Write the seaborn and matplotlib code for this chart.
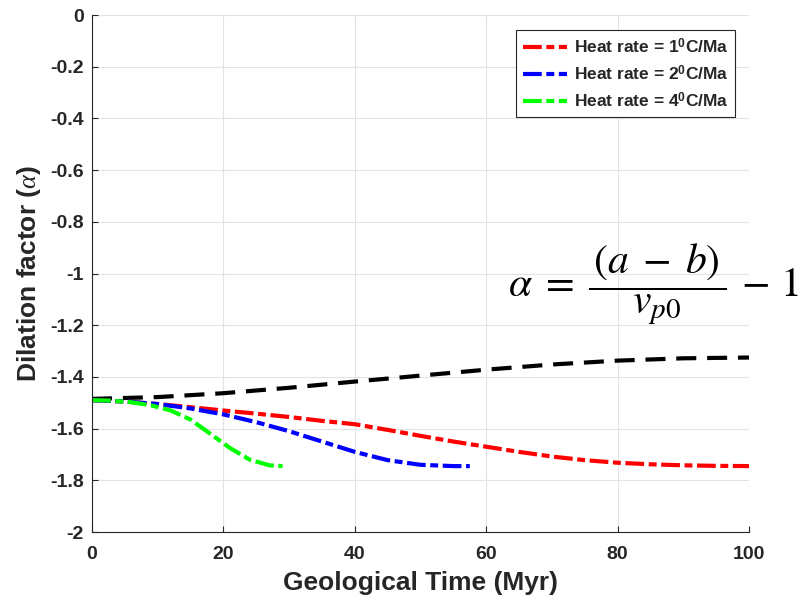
import matplotlib
matplotlib.use("Agg")
import matplotlib.pyplot as plt
import seaborn as sns
import pandas as pd

# ---- data ----
time_ref = [0, 10, 20, 30, 40, 50, 60, 70, 80, 90, 100]
alpha_ref = [-1.485, -1.478, -1.463, -1.442, -1.418, -1.395, -1.372, -1.352, -1.337, -1.328, -1.325]

time_1 = [0, 5, 10, 15, 20, 25, 30, 35, 40, 45, 50, 55, 60, 65, 70, 75, 80, 85, 90, 95, 100]
alpha_1 = [-1.49, -1.495, -1.505, -1.517, -1.53, -1.542, -1.555, -1.57, -1.583, -1.605, -1.628,
           -1.65, -1.67, -1.69, -1.708, -1.722, -1.732, -1.738, -1.742, -1.744, -1.745]

time_2 = [0, 5, 10, 15, 20, 25, 30, 35, 40, 45, 50, 55, 57.5]
alpha_2 = [-1.49, -1.495, -1.505, -1.522, -1.545, -1.575, -1.61, -1.65, -1.69, -1.722, -1.74, -1.745, -1.745]

time_4 = [0, 3, 6, 9, 12, 15, 18, 21, 24, 27, 29]
alpha_4 = [-1.49, -1.492, -1.498, -1.51, -1.53, -1.565, -1.62, -1.675, -1.72, -1.742, -1.745]

labels = ["Heat rate = 1$^{\\mathbf{0}}$C/Ma",
          "Heat rate = 2$^{\\mathbf{0}}$C/Ma",
          "Heat rate = 4$^{\\mathbf{0}}$C/Ma"]
colors = ["#ff0000", "#0000ff", "#00ff00"]

x_ticks = [0, 20, 40, 60, 80, 100]
y_ticks = [-2, -1.8, -1.6, -1.4, -1.2, -1, -0.8, -0.6, -0.4, -0.2, 0]
y_ticklabels = ["-2", "-1.8", "-1.6", "-1.4", "-1.2", "-1", "-0.8", "-0.6", "-0.4", "-0.2", "0"]

# ---- style ----
sns.set_style("whitegrid")
plt.rcParams["font.family"] = ["Liberation Sans", "DejaVu Sans"]
plt.rcParams["mathtext.fontset"] = "custom"
plt.rcParams["mathtext.rm"] = "Liberation Sans:bold"
plt.rcParams["mathtext.bf"] = "Liberation Sans:bold"
plt.rcParams["mathtext.it"] = "Liberation Serif:italic"

fig = plt.figure(figsize=(8.1, 6.0), dpi=100)
ax = fig.add_axes([0.1136, 0.1133, 0.8111, 0.8617])

dashdot = (0, (4.5, 1.1, 1.9, 1.1))
lw = 3.0

df_ref = pd.DataFrame({"t": time_ref, "a": alpha_ref})
sns.lineplot(data=df_ref, x="t", y="a", ax=ax, color="black", lw=lw,
             linestyle=(0, (4.8, 2.6)), legend=False)
for t, a, lab, c in [(time_1, alpha_1, labels[0], colors[0]),
                     (time_2, alpha_2, labels[1], colors[1]),
                     (time_4, alpha_4, labels[2], colors[2])]:
    d = pd.DataFrame({"t": t, "a": a})
    sns.lineplot(data=d, x="t", y="a", ax=ax, color=c, lw=lw,
                 linestyle=dashdot, label=lab)

ax.set_xlim(0, 100)
ax.set_ylim(-2, 0)
ax.set_xticks(x_ticks)
ax.set_yticks(y_ticks)
ax.set_yticklabels(y_ticklabels)
ax.tick_params(axis="both", labelsize=14, length=4, direction="in", colors="#262626",
               left=True, bottom=True)
ax.tick_params(axis="x", pad=10)
ax.tick_params(axis="y", pad=6)
for lab in ax.get_xticklabels() + ax.get_yticklabels():
    lab.set_fontweight("bold")
ax.grid(True, color="#e3e3e3", lw=0.8)
for side in ["top", "right"]:
    ax.spines[side].set_visible(False)
for side in ["left", "bottom"]:
    ax.spines[side].set_color("#262626")
    ax.spines[side].set_linewidth(0.8)

ax.set_xlabel("Geological Time (Myr)", fontsize=19, fontweight="bold", labelpad=6,
              color="#262626")
ax.set_ylabel("Dilation factor ($\\mathit{\\alpha}$)", fontsize=19, fontweight="bold",
              labelpad=5, color="#262626")

leg = ax.legend(loc="upper right", bbox_to_anchor=(0.979, 0.971), fontsize=12.5,
                frameon=True, fancybox=False, edgecolor="#262626", framealpha=1,
                handlelength=2.5, borderpad=0.4, labelspacing=0.45, handletextpad=0.4,
                borderaxespad=0.0)
leg.get_frame().set_linewidth(0.8)
for t in leg.get_texts():
    t.set_fontweight("bold")

fig.text(0.627, 0.526, r"$\alpha\;=\;\dfrac{\,(a\;-\;b)\,}{v_{p0}}\,-\,1$", fontsize=30,
         ha="left", va="center", math_fontfamily="stix", fontweight="normal", color="black")

fig.savefig("out.png", dpi=100)
